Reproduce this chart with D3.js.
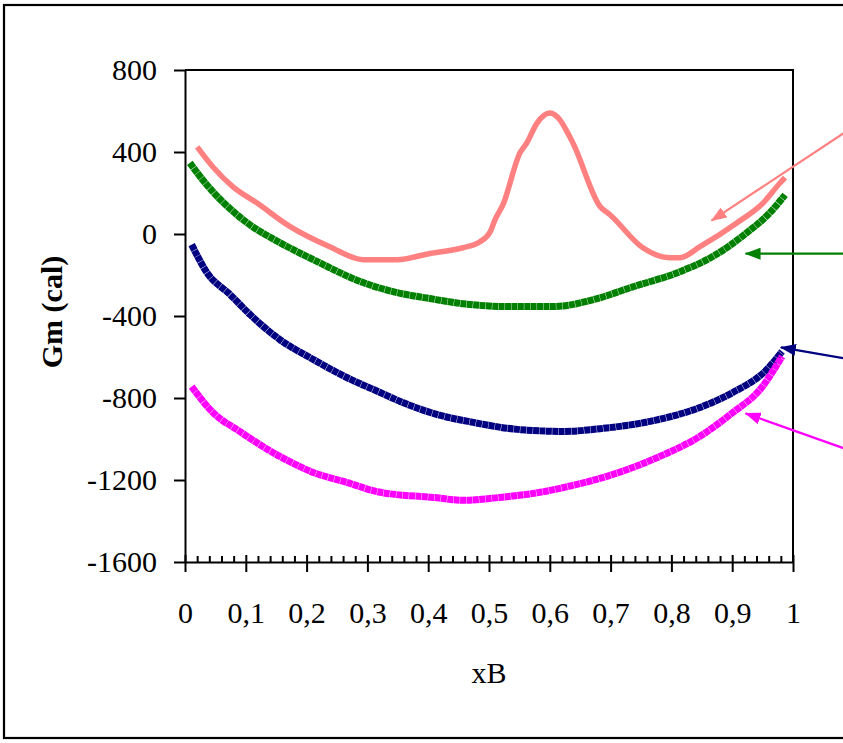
<!DOCTYPE html>
<html lang="en">
<head>
<meta charset="UTF-8">
<title>Gm vs xB</title>
<style>
  body { margin: 0; background: #fff; }
  svg { display: block; font-family: "Liberation Serif", "Times New Roman", serif; }
</style>
</head>
<body>
<svg width="843" height="743" id="svg"></svg>
<script src="https://d3js.org/d3.v7.min.js"></script>
<script>
// data: xB and Gm (cal) for each curve
const pinkX = [0.02, 0.046, 0.079, 0.118, 0.173, 0.238, 0.293, 0.349, 0.403, 0.457, 0.485, 0.502, 0.51, 0.523, 0.551, 0.562, 0.579, 0.6, 0.613, 0.638, 0.683, 0.699, 0.753, 0.798, 0.814, 0.847, 0.908, 0.951, 0.979, 0.987]
const pinkG = [425, 327, 230, 152, 36, -62, -125, -125, -95, -67, -38, 11, 70, 143, 396, 444, 541, 590, 570, 444, 133, 94, -67, -116, -116, -62, 55, 152, 250, 275]
const greenX = [0.008, 0.033, 0.046, 0.102, 0.156, 0.211, 0.293, 0.349, 0.403, 0.457, 0.53, 0.605, 0.678, 0.732, 0.814, 0.868, 0.924, 0.962, 0.987]
const greenG = [347, 250, 206, 55, -42, -125, -237, -286, -315, -340, -354, -354, -315, -262, -184, -110, 6, 104, 191]
const navyX = [0.011, 0.036, 0.074, 0.107, 0.156, 0.211, 0.266, 0.321, 0.354, 0.414, 0.474, 0.546, 0.622, 0.688, 0.765, 0.847, 0.901, 0.957, 0.982]
const navyG = [-52, -188, -295, -393, -515, -612, -700, -773, -817, -880, -919, -953, -963, -948, -914, -846, -773, -661, -573]
const magentaX = [0.011, 0.046, 0.09, 0.156, 0.211, 0.266, 0.321, 0.408, 0.457, 0.518, 0.584, 0.638, 0.694, 0.781, 0.847, 0.901, 0.946, 0.982]
const magentaG = [-745, -871, -963, -1085, -1163, -1212, -1260, -1285, -1299, -1285, -1260, -1226, -1182, -1085, -987, -871, -758, -597]

const xTicks = [0, 0.1, 0.2, 0.3, 0.4, 0.5, 0.6, 0.7, 0.8, 0.9, 1]
const yTicks = [800, 400, 0, -400, -800, -1200, -1600]

// arrows pointing in from the right side: [tip xB, tip Gm, tail xB, tail Gm]
const arrows = [
  {color: "#FF8080", pts: [0.866, 65, 1.09, 505]},
  {color: "#008000", pts: [0.922, -96, 1.09, -96]},
  {color: "#000080", pts: [0.98, -553, 1.09, -610]},
  {color: "#FF00FF", pts: [0.922, -875, 1.09, -1052]}
]

// pink is a plain line, the others are drawn with small square markers
const series = [
  {x: pinkX, g: pinkG, color: "#FF8080", w: 5.5, dash: null},
  {x: greenX, g: greenG, color: "#008000", w: 7, dash: "6 0.4"},
  {x: navyX, g: navyG, color: "#000080", w: 7, dash: "6 0.4"},
  {x: magentaX, g: magentaG, color: "#FF00FF", w: 7, dash: "6 0.4"}
]

const svg = d3.select("svg#svg")
const plot = {left: 185, right: 793, top: 70, bottom: 562}

const xScale = d3.scaleLinear().domain([0, 1]).range([plot.left, plot.right])
const yScale = d3.scaleLinear().domain([-1600, 800]).range([plot.bottom, plot.top])

// outer frame
svg.append("rect").attr("x", 4).attr("y", 5).attr("width", 860).attr("height", 733)
  .attr("fill", "none").attr("stroke", "#000").attr("stroke-width", 2.2)

// plot frame top and right
svg.append("path")
  .attr("d", `M${plot.left},${plot.top}H${plot.right}V${plot.bottom}`)
  .attr("fill", "none").attr("stroke", "#000").attr("stroke-width", 2)

// y axis
const yAxis = d3.axisLeft(yScale).tickValues(yTicks).tickFormat(d => String(d))
  .tickSize(11).tickSizeOuter(0).tickPadding(17)
const gy = svg.append("g").attr("transform", `translate(${plot.left},0)`).call(yAxis)
gy.select(".domain").attr("stroke-width", 2)
gy.selectAll(".tick line").attr("stroke-width", 2)
gy.selectAll(".tick text").attr("font-size", 30).attr("font-family", "Liberation Serif, serif").attr("fill", "#000")

// x axis minor ticks (inside)
const minor = d3.range(0, 51).map(i => i / 50).filter(v => Math.round(v * 50) % 5 !== 0)
const gxm = svg.append("g").attr("transform", `translate(0,${plot.bottom})`)
  .call(d3.axisBottom(xScale).tickValues(minor).tickSize(-6).tickFormat(""))
gxm.select(".domain").remove()
gxm.selectAll(".tick line").attr("stroke-width", 2)

// x axis major ticks (cross)
const xAxis = d3.axisBottom(xScale).tickValues(xTicks)
  .tickFormat(d => String(+d.toFixed(1)).replace(".", ","))
  .tickSize(10).tickSizeOuter(0)
const gx = svg.append("g").attr("transform", `translate(0,${plot.bottom})`).call(xAxis)
gx.select(".domain").attr("stroke-width", 2)
gx.selectAll(".tick line").attr("y1", -7).attr("y2", 10).attr("stroke-width", 2)
gx.selectAll(".tick text").attr("y", 61).attr("dy", 0)
  .attr("font-size", 30).attr("font-family", "Liberation Serif, serif").attr("fill", "#000")

// axis titles
svg.append("text").attr("x", 489).attr("y", 683).attr("text-anchor", "middle")
  .attr("font-size", 30).text("xB")
svg.append("text").attr("transform", `translate(62,312) rotate(-90)`)
  .attr("text-anchor", "middle").attr("font-size", 30).attr("font-weight", "bold")
  .text("Gm (cal)")

// curves
const line = d3.line().x(d => xScale(d[0])).y(d => yScale(d[1])).curve(d3.curveMonotoneX)
svg.selectAll("path.curve").data(series).join("path")
  .attr("class", "curve")
  .attr("d", s => line(s.x.map((v, i) => [v, s.g[i]])))
  .attr("fill", "none")
  .attr("stroke", s => s.color)
  .attr("stroke-width", s => s.w)
  .attr("stroke-dasharray", s => s.dash)
  .attr("stroke-linejoin", "round")

// arrow heads
const defs = svg.append("defs")
arrows.forEach((a, i) => {
  defs.append("marker").attr("id", "ah" + i)
    .attr("viewBox", "0 0 16 12").attr("refX", 15).attr("refY", 6)
    .attr("markerWidth", 16).attr("markerHeight", 12)
    .attr("markerUnits", "userSpaceOnUse").attr("orient", "auto")
    .append("path").attr("d", "M0,0L16,6L0,12Z").attr("fill", a.color)
})
svg.selectAll("line.arrow").data(arrows).join("line")
  .attr("class", "arrow")
  .attr("x1", a => xScale(a.pts[2])).attr("y1", a => yScale(a.pts[3]))
  .attr("x2", a => xScale(a.pts[0])).attr("y2", a => yScale(a.pts[1]))
  .attr("stroke", a => a.color).attr("stroke-width", 2.2)
  .attr("marker-end", (a, i) => `url(#ah${i})`)
</script>
</body>
</html>
